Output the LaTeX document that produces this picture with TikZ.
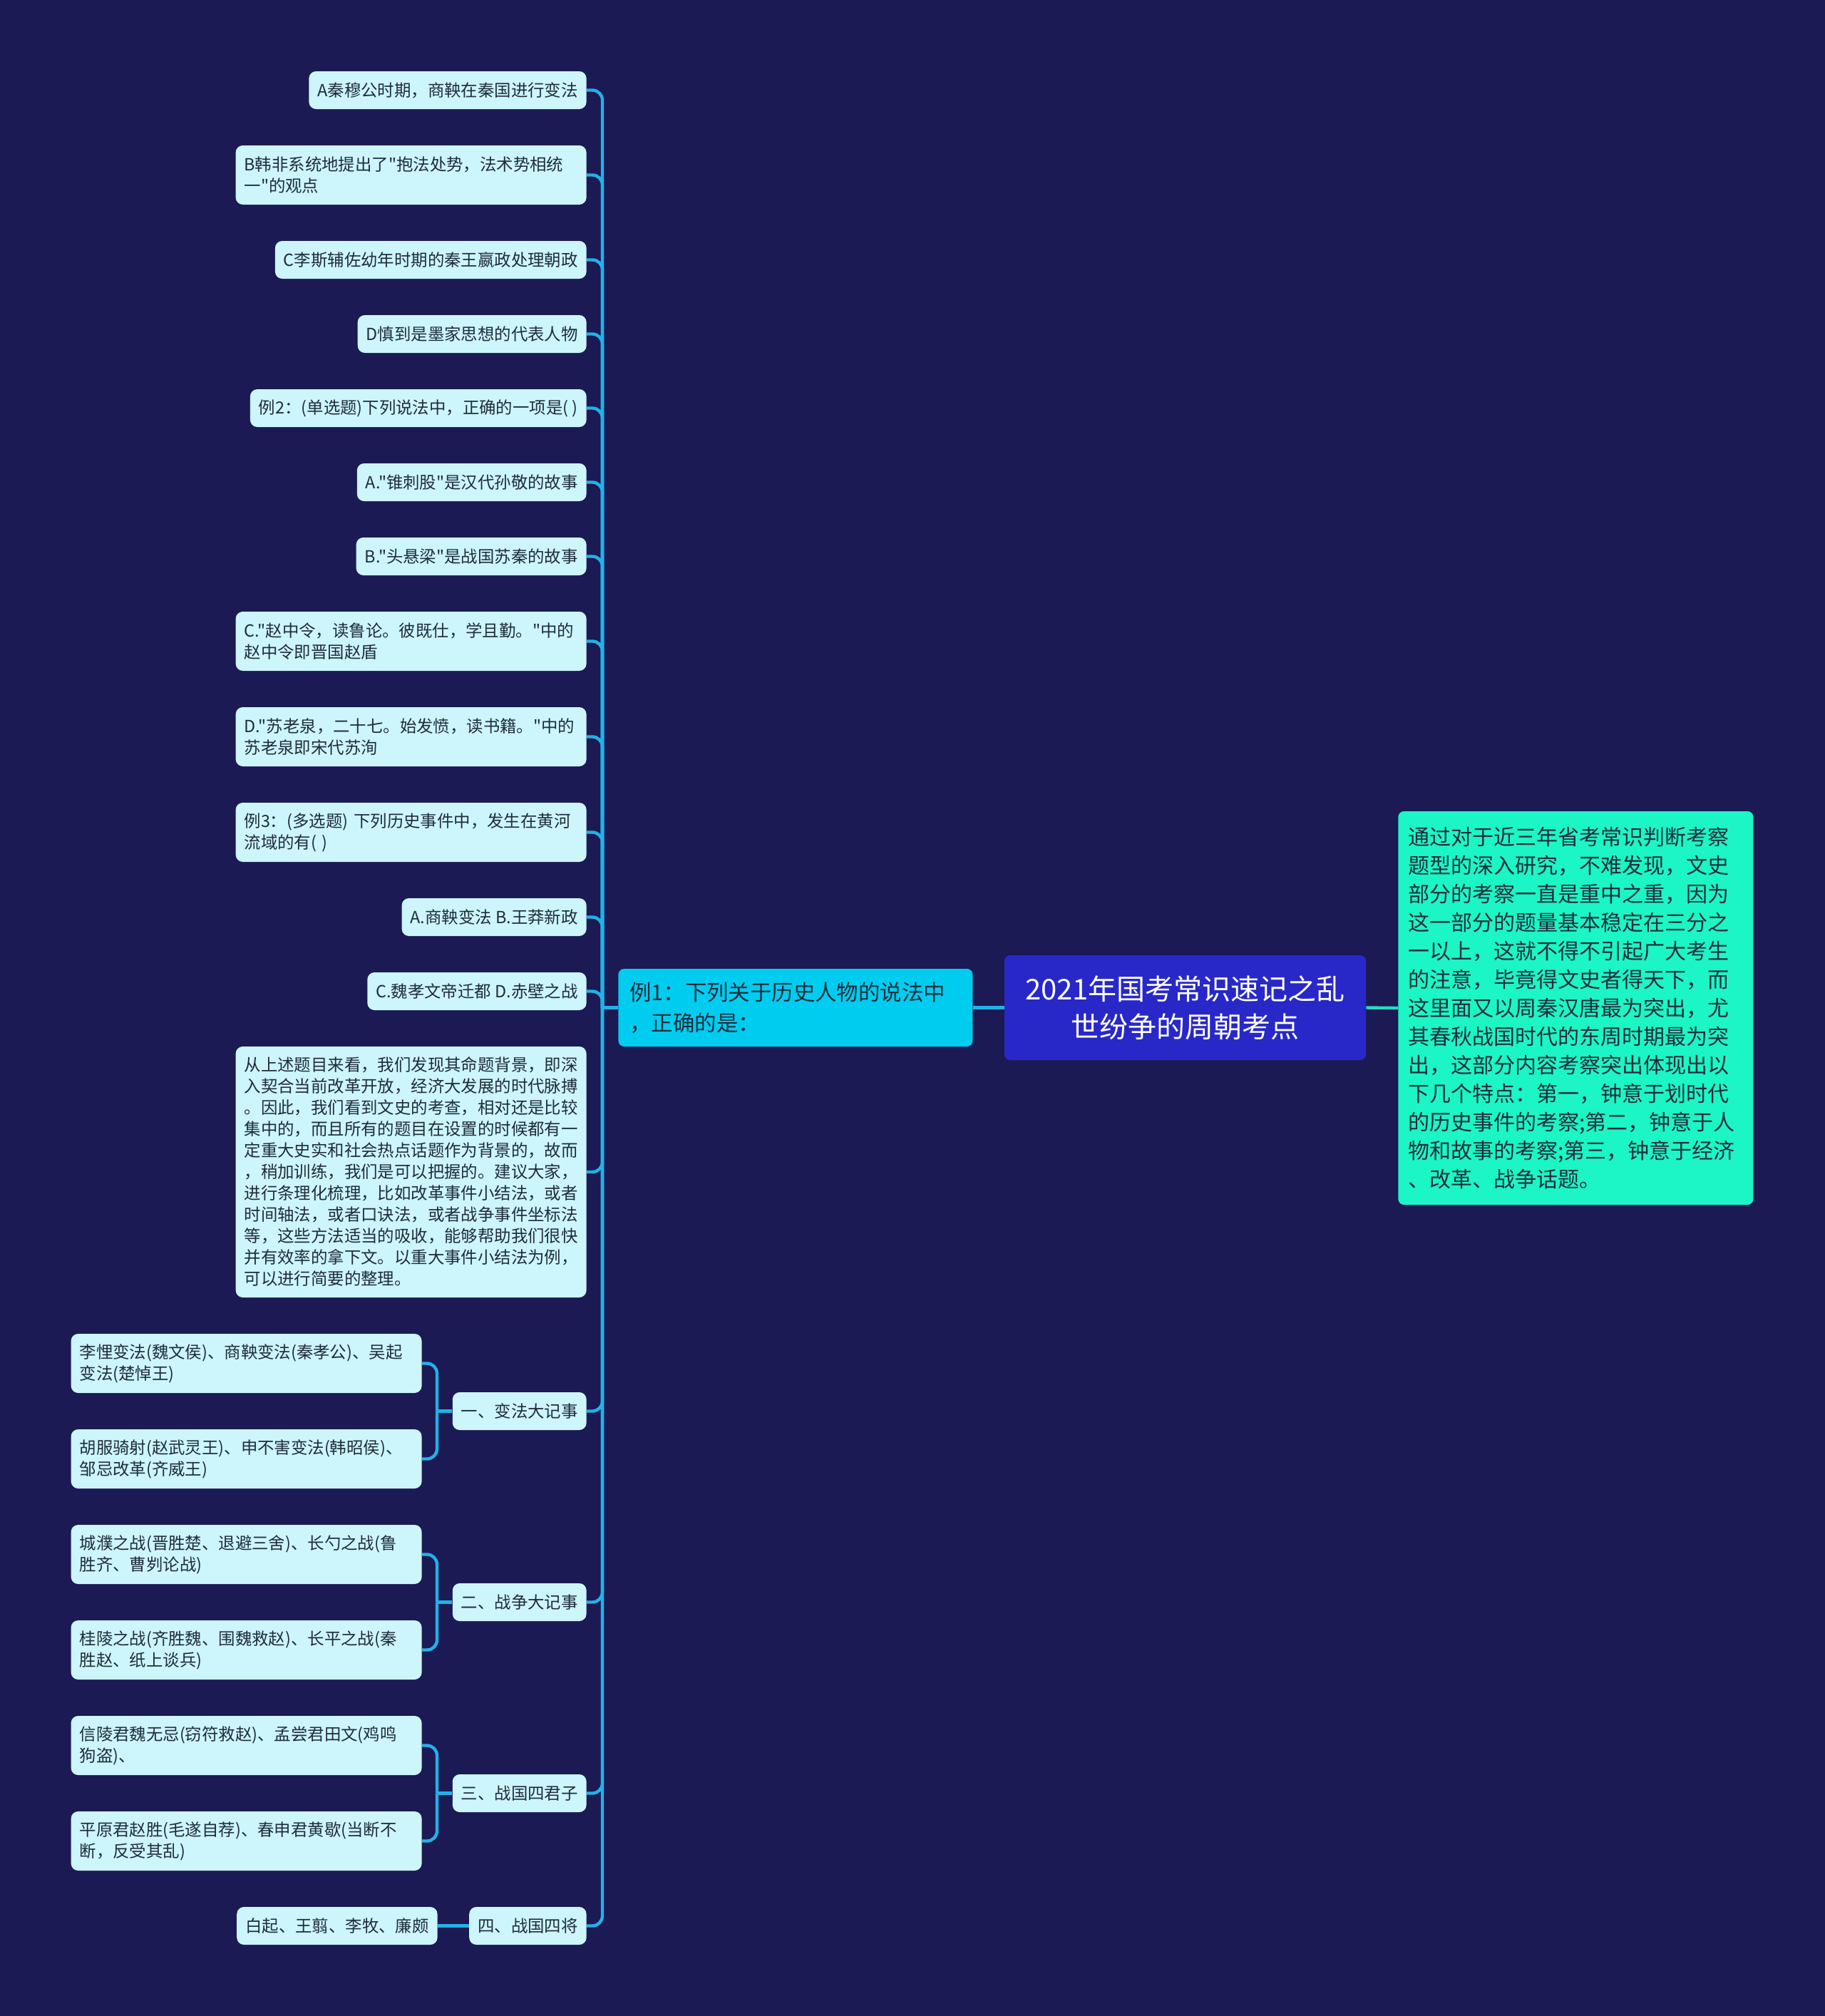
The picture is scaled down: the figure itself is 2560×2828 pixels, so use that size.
\documentclass[tikz,border=0pt]{standalone}
\usepackage{fontspec}
\setmainfont{Noto Sans CJK SC}[Ligatures=TeXOff]
\definecolor{bgc}{HTML}{1B1A54}
\definecolor{leafc}{HTML}{CDF5FC}
\definecolor{txtc}{HTML}{1E2D3A}
\definecolor{exc}{HTML}{00CCF0}
\definecolor{titlec}{HTML}{2828C8}
\definecolor{rightc}{HTML}{1CF5C6}
\definecolor{connc}{HTML}{22B2E8}
\definecolor{connr}{HTML}{2AD9C0}
\newcommand\myfs{\fontsize{11.7pt}{15pt}\selectfont}
\newcommand\myfm{\fontsize{15.2pt}{21.5pt}\selectfont}
\newcommand\myfr{\fontsize{15pt}{20pt}\selectfont}
\newcommand\myfl{\fontsize{20pt}{26.5pt}\selectfont}
\tikzset{
  leaf/.style={fill=leafc, text=txtc, rounded corners=5pt, font=\myfs,
    inner xsep=6pt, inner ysep=0pt, minimum height=26.5pt, anchor=east},
  leafd/.style={leaf, align=left, text width=234pt, minimum height=41.5pt},
  conn/.style={draw=connc, line width=2.2pt, rounded corners=7pt},
}
\begin{document}
\begin{tikzpicture}[x=0.5pt,y=-0.5pt]
\fill[bgc] (0,0) rectangle (2560,2828);
\useasboundingbox (0,0) rectangle (2560,2828);

% central nodes
\node[fill=titlec, text=white, rounded corners=4pt, font=\myfl, align=center,
  minimum width=253.5pt, minimum height=73.5pt, inner sep=0pt] (title) at (1662.5,1413.5)
  {2021年国考常识速记之乱\\世纷争的周朝考点};
\node[fill=exc, text=txtc, rounded corners=4pt, font=\myfm, align=left,
  text width=232.5pt, inner xsep=8pt, inner ysep=0pt, minimum height=54.5pt, anchor=west]
  (ex1) at (867,1413.5) {例1：下列关于历史人物的说法中\\，正确的是：};
\node[fill=rightc, text=txtc, rounded corners=4pt, font=\myfr, align=left,
  text width=235pt, inner xsep=7pt, inner ysep=0pt, minimum height=276pt, anchor=west]
  (rt) at (1961,1414) {通过对于近三年省考常识判断考察\\题型的深入研究，不难发现，文史\\部分的考察一直是重中之重，因为\\这一部分的题量基本稳定在三分之\\一以上，这就不得不引起广大考生\\的注意，毕竟得文史者得天下，而\\这里面又以周秦汉唐最为突出，尤\\其春秋战国时代的东周时期最为突\\出，这部分内容考察突出体现出以\\下几个特点：第一，钟意于划时代\\的历史事件的考察;第二，钟意于人\\物和故事的考察;第三，钟意于经济\\、改革、战争话题。};

% left children
\node[leaf] (a1) at (823,126.5) {A秦穆公时期，商鞅在秦国进行变法};
\node[leafd] (a2) at (823,245.5) {B韩非系统地提出了"抱法处势，法术势相统\\一"的观点};
\node[leaf] (a3) at (823,364.5) {C李斯辅佐幼年时期的秦王嬴政处理朝政};
\node[leaf] (a4) at (823,468.5) {D慎到是墨家思想的代表人物};
\node[leaf] (a5) at (823,572.5) {例2：(单选题)下列说法中，正确的一项是( )};
\node[leaf] (a6) at (823,676.5) {A."锥刺股"是汉代孙敬的故事};
\node[leaf] (a7) at (823,780.5) {B."头悬梁"是战国苏秦的故事};
\node[leafd] (a8) at (823,899.5) {C."赵中令，读鲁论。彼既仕，学且勤。"中的\\赵中令即晋国赵盾};
\node[leafd] (a9) at (823,1033.5) {D."苏老泉，二十七。始发愤，读书籍。"中的\\苏老泉即宋代苏洵};
\node[leafd] (a10) at (823,1167.5) {例3：(多选题) 下列历史事件中，发生在黄河\\流域的有( )};
\node[leaf] (a11) at (823,1286.5) {A.商鞅变法 B.王莽新政};
\node[leaf] (a12) at (823,1390.5) {C.魏孝文帝迁都 D.赤壁之战};
\node[leafd, minimum height=176pt] (a13) at (823,1644) {从上述题目来看，我们发现其命题背景，即深\\入契合当前改革开放，经济大发展的时代脉搏\\。因此，我们看到文史的考查，相对还是比较\\集中的，而且所有的题目在设置的时候都有一\\定重大史实和社会热点话题作为背景的，故而\\，稍加训练，我们是可以把握的。建议大家，\\进行条理化梳理，比如改革事件小结法，或者\\时间轴法，或者口诀法，或者战争事件坐标法\\等，这些方法适当的吸收，能够帮助我们很快\\并有效率的拿下文。以重大事件小结法为例，\\可以进行简要的整理。};

% groups
\node[leaf] (g1) at (823,1979.5) {一、变法大记事};
\node[leaf] (g2) at (823,2247.5) {二、战争大记事};
\node[leaf] (g3) at (823,2515.5) {三、战国四君子};
\node[leaf] (g4) at (823,2701.5) {四、战国四将};

\node[leafd] (g1a) at (592,1912.5) {李悝变法(魏文侯)、商鞅变法(秦孝公)、吴起\\变法(楚悼王)};
\node[leafd] (g1b) at (592,2046.5) {胡服骑射(赵武灵王)、申不害变法(韩昭侯)、\\邹忌改革(齐威王)};
\node[leafd] (g2a) at (592,2180.5) {城濮之战(晋胜楚、退避三舍)、长勺之战(鲁\\胜齐、曹刿论战)};
\node[leafd] (g2b) at (592,2314.5) {桂陵之战(齐胜魏、围魏救赵)、长平之战(秦\\胜赵、纸上谈兵)};
\node[leafd] (g3a) at (592,2448.5) {信陵君魏无忌(窃符救赵)、孟尝君田文(鸡鸣\\狗盗)、};
\node[leafd] (g3b) at (592,2582.5) {平原君赵胜(毛遂自荐)、春申君黄歇(当断不\\断，反受其乱)};
\node[leaf] (g4a) at (614,2701.5) {白起、王翦、李牧、廉颇};

% connectors
\coordinate (tj) at (845,1413.5);
\draw[conn] (ex1.west) -- (tj);
\foreach \n in {a1,a2,a3,a4,a5,a6,a7,a8,a9,a10,a11,a12,a13,g1,g2,g3,g4}
  \draw[conn] (tj) |- (\n.east);
\coordinate (j1) at (613,1979.5);
\coordinate (j2) at (613,2247.5);
\coordinate (j3) at (613,2515.5);
\draw[conn] (g1.west) -- (j1);
\draw[conn] (j1) |- (g1a.east);
\draw[conn] (j1) |- (g1b.east);
\draw[conn] (g2.west) -- (j2);
\draw[conn] (j2) |- (g2a.east);
\draw[conn] (j2) |- (g2b.east);
\draw[conn] (g3.west) -- (j3);
\draw[conn] (j3) |- (g3a.east);
\draw[conn] (j3) |- (g3b.east);
\draw[conn] (g4.west) -- (g4a.east);
\draw[draw=connc, line width=2.2pt] (title.west) -- (ex1.east);
\draw[draw=connr, line width=2.2pt] (title.east) -- (rt.west);
\end{tikzpicture}
\end{document}
